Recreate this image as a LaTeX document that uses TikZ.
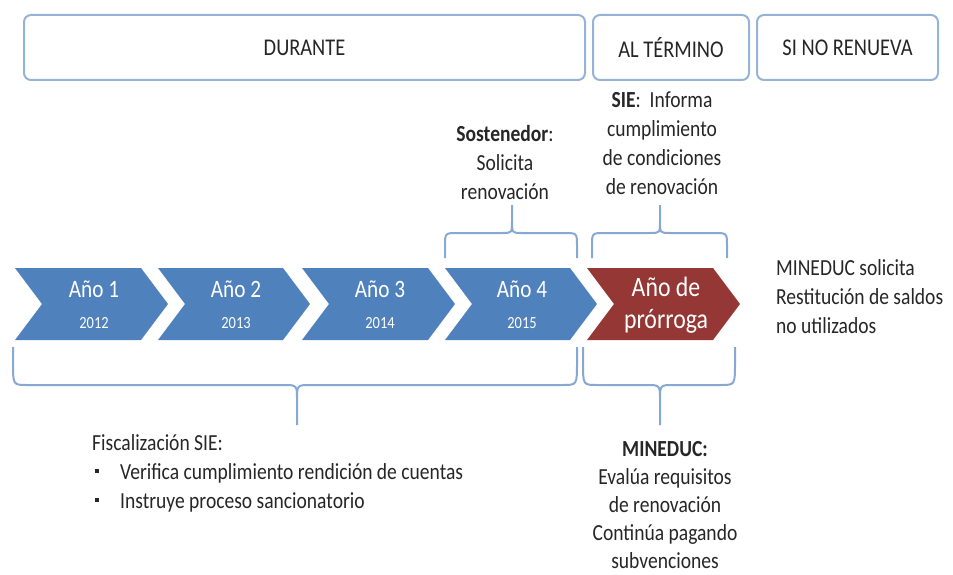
\documentclass[tikz,border=0pt]{standalone}
\usepackage{fontspec}
\setmainfont{Carlito}[FakeStretch=0.85]
\definecolor{boxline}{RGB}{149,179,215}
\definecolor{braceline}{RGB}{135,168,210}
\definecolor{chevblue}{RGB}{79,129,189}
\definecolor{chevred}{RGB}{149,55,53}
\definecolor{txt}{RGB}{38,38,38}
\newcommand\chevpath[2]{(#1,268) -- (#2-27,268) -- (#2,304) -- (#2-27,340) -- (#1,340) -- (#1+27,304) -- cycle}
\newcommand\bracetop[3]{%
  \draw[bracestyle] (#1,258) -- (#1,246) .. controls (#1,233) .. (#1+13,233) -- (#3-10,233) .. controls (#3,233) .. (#3,221) -- (#3,205)
    (#3,221) .. controls (#3,233) .. (#3+10,233) -- (#2-13,233) .. controls (#2,233) .. (#2,246) -- (#2,258);}
\newcommand\bracebot[3]{%
  \draw[bracestyle] (#1,347) -- (#1,362) .. controls (#1,385) .. (#1+14,385) -- (#3-14,385) .. controls (#3,385) .. (#3,400) -- (#3,425)
    (#3,400) .. controls (#3,385) .. (#3+14,385) -- (#2-14,385) .. controls (#2,385) .. (#2,362) -- (#2,347);}
\newcommand\sqbul{\makebox[25pt][l]{\raisebox{0.28em}{\rule{3.5pt}{3.5pt}}}}
\begin{document}
\begin{tikzpicture}[x=1pt,y=-1pt,
  topbox/.style={draw=boxline, line width=2pt, rounded corners=7pt, fill=white, text=txt, font=\fontsize{24}{28}\selectfont, inner sep=0pt},
  bracestyle/.style={draw=braceline, line width=2pt},
  chevtxt/.style={text=white, font=\fontsize{25}{28}\selectfont, inner sep=0pt},
  yeartxt/.style={text=white, font=\fontsize{17}{20}\selectfont, inner sep=0pt},
  body/.style={text=txt, font=\fontsize{23}{29}\selectfont, inner sep=0pt}]
\path[use as bounding box] (0,0) rectangle (953,575);
% top boxes
\node[topbox, minimum width=561pt, minimum height=65pt] (durante) at (304.5,47.5) {DURANTE};
\node[topbox, minimum width=156pt, minimum height=65pt] (altermino) at (671,47.5) {AL TÉRMINO};
\node[topbox, minimum width=181pt, minimum height=65pt] (sinorenueva) at (847.5,47.5) {SI NO RENUEVA};
% chevrons
\fill[chevblue] \chevpath{15}{168};
\fill[chevblue] \chevpath{158}{310};
\fill[chevblue] \chevpath{302}{455};
\fill[chevblue] \chevpath{445}{597};
\fill[chevred] \chevpath{587}{740};
\node[chevtxt] (a1) at (94,289) {Año 1};
\node[yeartxt] (y1) at (94,323) {2012};
\node[chevtxt] (a2) at (236,289) {Año 2};
\node[yeartxt] (y2) at (236,323) {2013};
\node[chevtxt] (a3) at (380,289) {Año 3};
\node[yeartxt] (y3) at (380,323) {2014};
\node[chevtxt] (a4) at (522,289) {Año 4};
\node[yeartxt] (y4) at (522,323) {2015};
\node[chevtxt, font=\fontsize{28}{32}\selectfont, align=center] (prorroga) at (666,305) {Año de\\prórroga};
% braces
\bracetop{445}{577}{512}
\bracetop{592}{727}{660}
\bracebot{13}{577}{297}
\bracebot{583}{735}{660}
% texts
\node[body, align=center] (sost) at (505,163) {\textbf{Sostenedor}:\\Solicita\\renovación};
\node[body, align=center] (sie) at (662,143) {\textbf{SIE}:\ \ Informa\\cumplimiento\\de condiciones\\de renovación};
\node[body, align=left, anchor=west] (restit) at (776,297) {MINEDUC solicita\\Restitución de saldos\\no utilizados};
\node[body, align=left, anchor=north west] (fisc) at (92,434) {Fiscalización SIE:\\\hspace*{3pt}\sqbul Verifica cumplimiento rendición de cuentas\\\hspace*{3pt}\sqbul Instruye proceso sancionatorio};
\node[body, font=\fontsize{23}{28}\selectfont, align=center] (mineduc) at (665,505) {\textbf{MINEDUC:}\\Evalúa requisitos\\de renovación\\Continúa pagando\\subvenciones};
\end{tikzpicture}
\end{document}
